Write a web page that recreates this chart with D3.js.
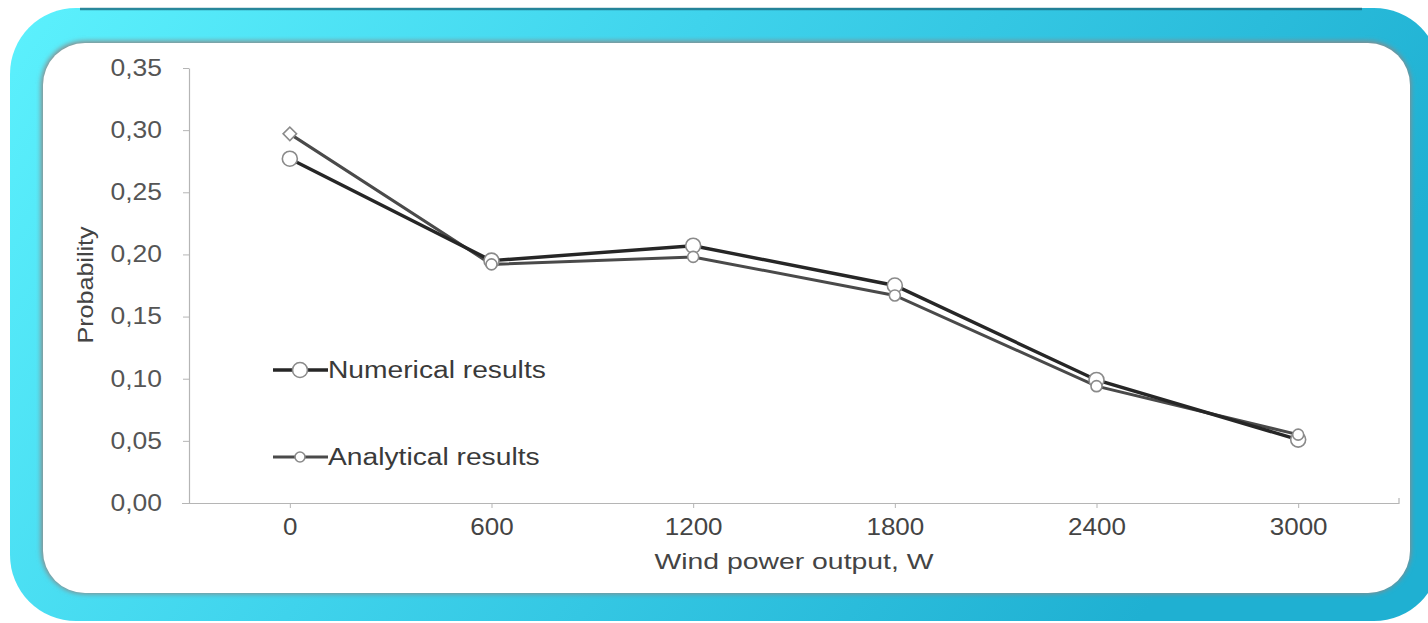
<!DOCTYPE html>
<html>
<head>
<meta charset="utf-8">
<script src="https://cdn.jsdelivr.net/npm/d3@7"></script>
<style>
  body { margin: 0; background: #fff; }
  svg { display: block; }
  text { font-family: "Liberation Sans", Arial, sans-serif; fill: #4a4a4a; }
</style>
</head>
<body>
<div id="chart"></div>
<script>
// chart values
var powers = [0, 600, 1200, 1800, 2400, 3000];
var numerical = [0.277, 0.195, 0.207, 0.175, 0.099, 0.051];
var analytical = [0.297, 0.192, 0.198, 0.167, 0.094, 0.055];
var yTicks = [0, 0.05, 0.10, 0.15, 0.20, 0.25, 0.30, 0.35];
var seriesNames = ["Numerical results", "Analytical results"];

var width = 1428, height = 623;

// the source font is set wider than Liberation Sans, so stretch text a bit
function widen(sel, k) {
    sel.each(function () {
        var len = this.getComputedTextLength();
        d3.select(this)
            .attr("textLength", len * k)
            .attr("lengthAdjust", "spacingAndGlyphs");
    });
}

var svg = d3.select("#chart")
    .append("svg")
    .attr("width", width)
    .attr("height", height);

var defs = svg.append("defs");

var grad = defs.append("linearGradient")
    .attr("id", "frameGrad")
    .attr("x1", "0%").attr("y1", "0%")
    .attr("x2", "100%").attr("y2", "30%");
grad.append("stop").attr("offset", "0%").attr("stop-color", "#5cf1fd");
grad.append("stop").attr("offset", "45%").attr("stop-color", "#3fd3ec");
grad.append("stop").attr("offset", "100%").attr("stop-color", "#1fb0d2");

var shadow = defs.append("filter")
    .attr("id", "inset")
    .attr("x", "-5%").attr("y", "-5%")
    .attr("width", "110%").attr("height", "110%");
shadow.append("feGaussianBlur").attr("stdDeviation", 2.5);

// outer frame
svg.append("rect")
    .attr("x", 10).attr("y", 8)
    .attr("width", 1430).attr("height", 613)
    .attr("rx", 66)
    .style("fill", "url(#frameGrad)");

// dark top edge
svg.append("path")
    .attr("d", "M80,9 L1362,9")
    .style("stroke", "#1d7085")
    .style("stroke-width", 2.5)
    .style("opacity", 0.8);

// inner panel shadow + panel
svg.append("rect")
    .attr("x", 41).attr("y", 41)
    .attr("width", 1370).attr("height", 553)
    .attr("rx", 44)
    .style("fill", "#8a8a8a")
    .attr("filter", "url(#inset)");

svg.append("rect")
    .attr("x", 43).attr("y", 43)
    .attr("width", 1367).attr("height", 550)
    .attr("rx", 42)
    .style("fill", "#fff");

// scales
var x = d3.scaleLinear()
    .domain([-300, 3300])
    .range([189, 1399]);

var y = d3.scaleLinear()
    .domain([0, 0.35])
    .range([503, 68]);

// y axis
var yAxis = svg.append("g")
    .attr("transform", "translate(" + x(-300) + ",0)")
    .call(d3.axisLeft(y)
        .tickValues(yTicks)
        .tickSize(6)
        .tickSizeOuter(0)
        .tickPadding(21)
        .tickFormat(function (d) { return d3.format(".2f")(d).replace(".", ","); }));

yAxis.select(".domain").style("stroke", "#b5b5b5").style("stroke-width", 1.2);
yAxis.selectAll(".tick line").style("stroke", "#b5b5b5");
yAxis.selectAll(".tick text")
    .style("font-size", "23px")
    .style("fill", "#555")
    .call(widen, 1.15);

// x axis
var xAxis = svg.append("g")
    .attr("transform", "translate(0," + y(0) + ")")
    .call(d3.axisBottom(x)
        .tickValues(powers)
        .tickSize(5)
        .tickSizeOuter(0)
        .tickPadding(8)
        .tickFormat(d3.format("d")));

xAxis.select(".domain")
    .attr("d", "M182,0.5H" + x(3300) + "V-5")
    .style("stroke", "#b5b5b5").style("stroke-width", 1.2);
xAxis.selectAll(".tick line").style("stroke", "#b5b5b5");
xAxis.selectAll(".tick text")
    .attr("y", 32)
    .attr("dy", null)
    .style("font-size", "23px")
    .style("fill", "#444")
    .call(widen, 1.13);

// axis titles
svg.append("text")
    .attr("x", 794)
    .attr("y", 569)
    .attr("text-anchor", "middle")
    .style("font-size", "22.5px")
    .style("fill", "#444")
    .text("Wind power output, W")
    .call(widen, 1.26);

svg.append("text")
    .attr("transform", "translate(93,285) rotate(-90)")
    .attr("text-anchor", "middle")
    .style("font-size", "22px")
    .style("fill", "#444")
    .text("Probability")
    .call(widen, 1.14);

// lines
var line = d3.line()
    .x(function (d) { return x(d[0]); })
    .y(function (d) { return y(d[1]); });

var numData = powers.map(function (p, i) { return [p, numerical[i]]; });
var anaData = powers.map(function (p, i) { return [p, analytical[i]]; });

svg.append("path")
    .datum(anaData)
    .attr("d", line)
    .style("fill", "none")
    .style("stroke", "#4a4a4a")
    .style("stroke-width", 3);

svg.append("path")
    .datum(numData)
    .attr("d", line)
    .style("fill", "none")
    .style("stroke", "#262626")
    .style("stroke-width", 3.4);

// markers
svg.selectAll(".num")
    .data(numData)
    .enter()
    .append("circle")
    .attr("class", "num")
    .attr("cx", function (d) { return x(d[0]); })
    .attr("cy", function (d) { return y(d[1]); })
    .attr("r", 7.5)
    .style("fill", "#fff")
    .style("stroke", "#8a8a8a")
    .style("stroke-width", 1.6);

// first analytical marker is drawn as a diamond in the source
svg.selectAll(".ana")
    .data(anaData)
    .enter()
    .append("path")
    .attr("class", "ana")
    .attr("d", function (d, i) {
        return i === 0
            ? d3.symbol().type(d3.symbolSquare).size(90)()
            : d3.symbol().type(d3.symbolCircle).size(95)();
    })
    .attr("transform", function (d, i) {
        var t = "translate(" + x(d[0]) + "," + y(d[1]) + ")";
        return i === 0 ? t + " rotate(45)" : t;
    })
    .style("fill", "#fff")
    .style("stroke", "#8a8a8a")
    .style("stroke-width", 1.6);

// legend
var legendY = [370, 457];
var legendR = [7.5, 5];
var legendW = [3.4, 3];
var legendC = ["#262626", "#4a4a4a"];

var lg = svg.selectAll(".legend")
    .data(seriesNames)
    .enter()
    .append("g")
    .attr("class", "legend")
    .attr("transform", function (d, i) { return "translate(0," + legendY[i] + ")"; });

lg.append("line")
    .attr("x1", 273).attr("x2", 328)
    .attr("y1", 0).attr("y2", 0)
    .style("stroke", function (d, i) { return legendC[i]; })
    .style("stroke-width", function (d, i) { return legendW[i]; });

lg.append("circle")
    .attr("cx", 300).attr("cy", 0)
    .attr("r", function (d, i) { return legendR[i]; })
    .style("fill", "#fff")
    .style("stroke", "#8a8a8a")
    .style("stroke-width", 1.6);

lg.append("text")
    .attr("x", 328)
    .attr("y", 8)
    .style("font-size", "23.5px")
    .style("fill", "#3a3a3a")
    .text(function (d) { return d; })
    .call(widen, 1.2);
</script>
</body>
</html>
